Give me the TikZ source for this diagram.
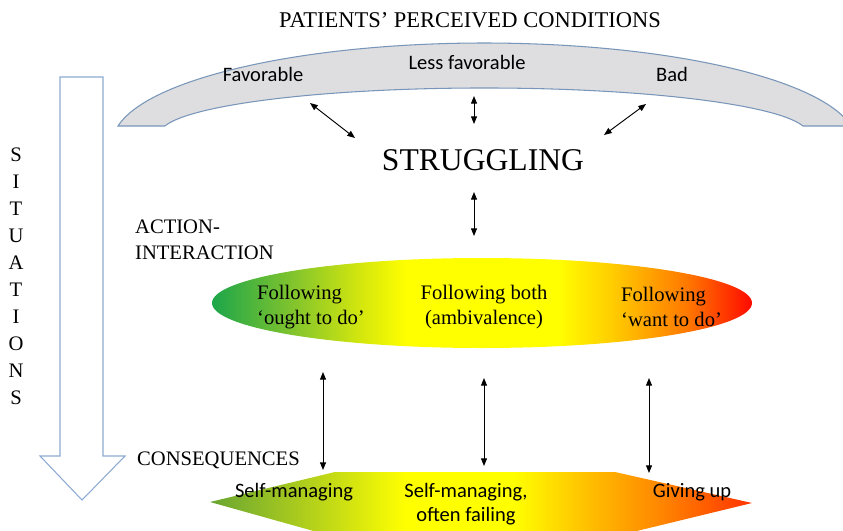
\documentclass[tikz,border=0pt]{standalone}
\usepackage{fontspec}
\setmainfont{Liberation Serif}
\newfontfamily\calfont{Carlito}
\usetikzlibrary{arrows.meta}
\definecolor{bandfill}{RGB}{222,222,224}
\definecolor{bandline}{RGB}{120,150,185}
\definecolor{bigline}{RGB}{140,170,210}
\definecolor{eg0}{RGB}{28,166,74}
\definecolor{eg1}{RGB}{130,196,45}
\definecolor{eg2}{RGB}{215,232,12}
\definecolor{yel}{RGB}{255,255,0}
\definecolor{eg3}{RGB}{255,205,0}
\definecolor{eg4}{RGB}{255,120,0}
\definecolor{red1}{RGB}{255,10,0}
\definecolor{bg0}{RGB}{105,165,50}
\definecolor{bg1}{RGB}{185,212,25}
\definecolor{bg2}{RGB}{255,190,0}
\definecolor{bg3}{RGB}{255,130,0}
\definecolor{bg4}{RGB}{255,50,0}
\pgfdeclarehorizontalshading{ellshade}{100bp}{color(0bp)=(eg0); color(25bp)=(eg0); color(32.5bp)=(eg1); color(39bp)=(eg2); color(43bp)=(yel); color(57bp)=(yel); color(62bp)=(eg3); color(69bp)=(eg4); color(75bp)=(red1); color(100bp)=(red1)}
\pgfdeclarehorizontalshading{botshade}{100bp}{color(0bp)=(bg0); color(25bp)=(bg0); color(35bp)=(bg1); color(43bp)=(yel); color(53bp)=(yel); color(60bp)=(bg2); color(67bp)=(bg3); color(75bp)=(bg4); color(100bp)=(bg4)}
\tikzset{
  serifbig/.style={font=\fontsize{27}{30}\selectfont},
  seriftitle/.style={font=\fontsize{19.2}{22}\selectfont},
  serifmid/.style={font=\fontsize{17.6}{22}\selectfont},
  sanslab/.style={font=\calfont\fontsize{17.5}{20.5}\selectfont},
  dbl/.style={{Triangle[length=2.3mm,width=1.8mm]}-{Triangle[length=2.3mm,width=1.8mm]}, line width=0.8pt, black},
}
\begin{document}
\begin{tikzpicture}[x=0.03cm,y=-0.03cm]
\useasboundingbox (0,0) rectangle (843,530);
\clip (0,0) rectangle (843,530);
% big down arrow
\draw[bigline, line width=0.9pt, line join=miter] (60,77) -- (103,77) -- (103,456) -- (125,456) -- (82,500) -- (40,456) -- (60,456) -- cycle;
% band
\path[draw=bandline, fill=bandfill, line width=0.9pt] (118,126) arc[start angle=189.8, end angle=350.2, x radius=372, y radius=100] -- (803,126) arc[start angle=350, end angle=190, x radius=324, y radius=46] -- cycle;
% gradient ellipse
\shade[shading=ellshade] (482,303) ellipse[x radius=270, y radius=45];
% bottom shape
\shade[shading=botshade] (210,502) -- (335,472) -- (615,472) -- (752,503) -- (612,537) -- (335,537) -- cycle;
% texts
\node[seriftitle] (title) at (470,20) {PATIENTS’ PERCEIVED CONDITIONS};
\node[sanslab] (fav) at (263,74) {Favorable};
\node[sanslab] (lessfav) at (467,62) {Less favorable};
\node[sanslab] (bad) at (672,74) {Bad};
\node[serifbig] (strug) at (483,160) {STRUGGLING};
\node[serifmid, align=left, anchor=west] (action) at (131,240) {ACTION-\\INTERACTION};
\node[serifmid, align=left, anchor=west] (ought) at (253,307) {Following\\‘ought to do’};
\node[serifmid, align=center] (both) at (484,307) {Following both\\(ambivalence)};
\node[serifmid, align=left, anchor=west] (want) at (617,307) {Following\\‘want to do’};
\node[serifmid, anchor=west] (cons) at (133,460) {CONSEQUENCES};
\node[sanslab] (sm) at (294,492) {Self-managing};
\node[sanslab, align=center] (smf) at (466,504) {Self-managing,\\often failing};
\node[sanslab] (give) at (692,492) {Giving up};
\foreach \l [count=\i] in {S,I,T,U,A,T,I,O,N,S}
  \node[serifmid] (sit\i) at (16,{155+27*(\i-1)}) {\l};
% arrow end points
\coordinate (a1s) at (310,103); \coordinate (a1e) at (355,138);
\coordinate (a2s) at (474,96);  \coordinate (a2e) at (474,124);
\coordinate (a3s) at (646,104); \coordinate (a3e) at (604,135);
\coordinate (a4s) at (474,192); \coordinate (a4e) at (474,236);
\coordinate (a5s) at (323,372); \coordinate (a5e) at (323,470);
\coordinate (a6s) at (484,378); \coordinate (a6e) at (484,466);
\coordinate (a7s) at (649,378); \coordinate (a7e) at (649,473);
\draw[dbl] (a1s) -- (a1e);
\draw[dbl] (a2s) -- (a2e);
\draw[dbl] (a3s) -- (a3e);
\draw[dbl] (a4s) -- (a4e);
\draw[dbl] (a5s) -- (a5e);
\draw[dbl] (a6s) -- (a6e);
\draw[dbl] (a7s) -- (a7e);
\end{tikzpicture}
\end{document}
